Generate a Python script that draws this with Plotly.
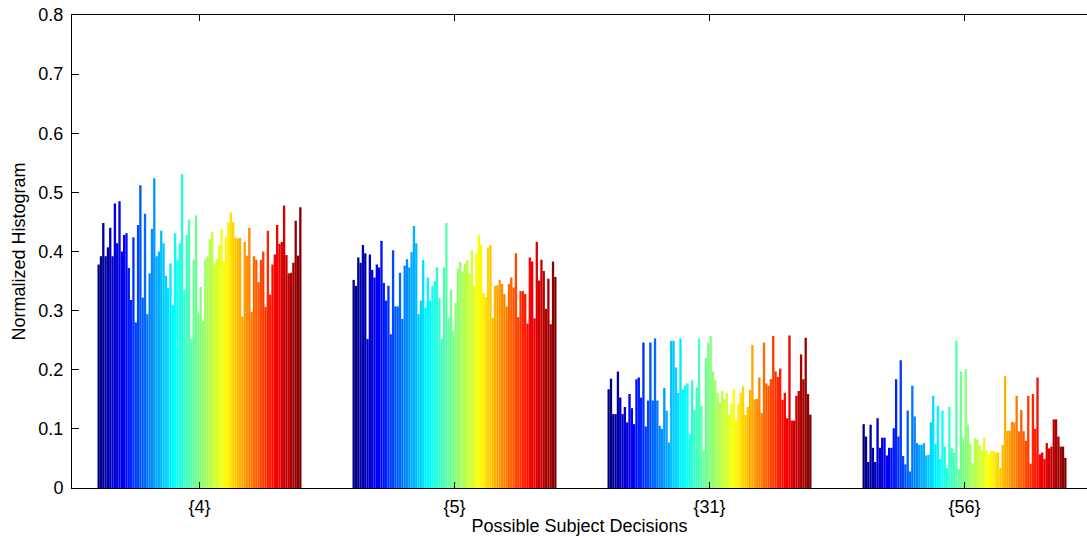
import plotly.graph_objects as go

categories = ["{4}", "{5}", "{31}", "{56}"]

group_4 = [0.378, 0.392, 0.448, 0.392, 0.407, 0.440, 0.392, 0.481, 0.414, 0.485,
           0.400, 0.428, 0.431, 0.372, 0.318, 0.424, 0.280, 0.445, 0.512, 0.322,
           0.464, 0.294, 0.363, 0.438, 0.524, 0.392, 0.400, 0.435, 0.414, 0.359,
           0.338, 0.380, 0.309, 0.431, 0.386, 0.414, 0.531, 0.335, 0.428, 0.454,
           0.252, 0.386, 0.461, 0.297, 0.340, 0.282, 0.387, 0.392, 0.421, 0.433,
           0.380, 0.387, 0.411, 0.438, 0.383, 0.425, 0.449, 0.466, 0.450, 0.424,
           0.422, 0.423, 0.290, 0.416, 0.393, 0.440, 0.298, 0.392, 0.386, 0.348,
           0.386, 0.400, 0.306, 0.435, 0.327, 0.378, 0.395, 0.445, 0.413, 0.416,
           0.478, 0.394, 0.363, 0.364, 0.381, 0.452, 0.393, 0.475]

group_5 = [0.352, 0.342, 0.390, 0.381, 0.411, 0.397, 0.252, 0.395, 0.369, 0.356,
           0.378, 0.373, 0.418, 0.347, 0.317, 0.342, 0.260, 0.402, 0.307, 0.307,
           0.364, 0.286, 0.376, 0.387, 0.373, 0.399, 0.443, 0.414, 0.294, 0.317,
           0.386, 0.305, 0.356, 0.317, 0.342, 0.350, 0.373, 0.321, 0.252, 0.373,
           0.448, 0.288, 0.335, 0.266, 0.313, 0.371, 0.382, 0.366, 0.379, 0.386,
           0.363, 0.402, 0.342, 0.397, 0.428, 0.412, 0.330, 0.323, 0.407, 0.411,
           0.288, 0.342, 0.343, 0.352, 0.345, 0.328, 0.307, 0.345, 0.356, 0.339,
           0.397, 0.289, 0.333, 0.333, 0.328, 0.278, 0.390, 0.383, 0.287, 0.416,
           0.351, 0.386, 0.367, 0.303, 0.354, 0.277, 0.383, 0.357]

group_31 = [0.167, 0.185, 0.125, 0.125, 0.197, 0.153, 0.125, 0.137, 0.111, 0.159,
            0.135, 0.108, 0.184, 0.187, 0.153, 0.246, 0.104, 0.148, 0.246, 0.148,
            0.253, 0.148, 0.105, 0.100, 0.169, 0.131, 0.077, 0.249, 0.249, 0.204,
            0.161, 0.253, 0.167, 0.173, 0.177, 0.091, 0.182, 0.132, 0.170, 0.253,
            0.138, 0.063, 0.220, 0.246, 0.257, 0.197, 0.182, 0.161, 0.144, 0.164,
            0.150, 0.161, 0.124, 0.142, 0.167, 0.114, 0.143, 0.161, 0.172, 0.124,
            0.137, 0.166, 0.242, 0.150, 0.151, 0.187, 0.127, 0.246, 0.177, 0.173,
            0.184, 0.257, 0.197, 0.188, 0.202, 0.149, 0.161, 0.118, 0.258, 0.114,
            0.114, 0.156, 0.164, 0.226, 0.184, 0.254, 0.159, 0.124]

group_56 = [0.108, 0.087, 0.044, 0.107, 0.068, 0.044, 0.118, 0.068, 0.085, 0.085,
            0.055, 0.068, 0.068, 0.101, 0.184, 0.087, 0.216, 0.054, 0.040, 0.131,
            0.028, 0.173, 0.121, 0.076, 0.073, 0.073, 0.076, 0.055, 0.056, 0.111,
            0.156, 0.075, 0.139, 0.049, 0.131, 0.070, 0.034, 0.137, 0.067, 0.060,
            0.249, 0.032, 0.197, 0.085, 0.201, 0.107, 0.075, 0.042, 0.084, 0.082,
            0.073, 0.064, 0.085, 0.064, 0.056, 0.063, 0.063, 0.060, 0.060, 0.034,
            0.073, 0.189, 0.097, 0.097, 0.112, 0.111, 0.156, 0.096, 0.132, 0.096,
            0.080, 0.156, 0.041, 0.159, 0.100, 0.187, 0.057, 0.060, 0.049, 0.076,
            0.067, 0.070, 0.116, 0.116, 0.087, 0.070, 0.070, 0.051]

y_ticks = [0, 0.1, 0.2, 0.3, 0.4, 0.5, 0.6, 0.7, 0.8]
y_tick_labels = ["0", "0.1", "0.2", "0.3", "0.4", "0.5", "0.6", "0.7", "0.8"]

groups = [group_4, group_5, group_31, group_56]
n_series = max(len(g) for g in groups)


def jet(t):
    def c(v):
        return max(0.0, min(1.0, v))
    r = c(1.5 - abs(4 * t - 3))
    g = c(1.5 - abs(4 * t - 2))
    b = c(1.5 - abs(4 * t - 1))
    return f"rgb({int(round(r*255))},{int(round(g*255))},{int(round(b*255))})"


x_pos = [1, 2, 3, 4]
fig = go.Figure()
for i in range(n_series):
    yv = [g[i] if i < len(g) else None for g in groups]
    fig.add_trace(go.Bar(
        x=x_pos, y=yv,
        marker=dict(color=jet(i / (n_series - 1)), line=dict(width=0)),
        showlegend=False, hoverinfo="y",
    ))

FAMILY = "Liberation Sans, Arial, sans-serif"
tick_font = dict(family=FAMILY, size=18, color="black")
title_font = dict(family=FAMILY, size=18, color="black")

# plot area spans x 72..1087 (right axis lies just past the window), y 15..488
fig.update_layout(
    width=1087, height=537,
    margin=dict(l=72, r=0, t=15, b=49),
    paper_bgcolor="white", plot_bgcolor="white",
    barmode="group", bargap=0.2, bargroupgap=0.0,
    font=tick_font,
    xaxis=dict(
        range=[0.5, 0.5 + 1015 / 255], tickvals=x_pos, ticktext=categories,
        showline=True, linecolor="black", linewidth=1, mirror="ticks",
        ticks="inside", ticklen=6, tickcolor="black",
        showgrid=False, zeroline=False, tickfont=tick_font,
        ticklabelstandoff=2,
        title=dict(text="Possible Subject Decisions", standoff=3, font=title_font),
        automargin=False,
    ),
    yaxis=dict(
        range=[0, 0.8], tickvals=y_ticks, ticktext=y_tick_labels,
        showline=True, linecolor="black", linewidth=1, mirror=False,
        ticks="inside", ticklen=7, tickcolor="black",
        showgrid=False, zeroline=False, tickfont=tick_font,
        ticklabelstandoff=4, ticklabeloverflow="allow",
        title=dict(text="Normalized Histogram", standoff=8, font=title_font),
        automargin=False,
    ),
    yaxis2=dict(
        overlaying="y", side="right", range=[0, 0.8], tickvals=y_ticks,
        showticklabels=False, showline=False, showgrid=False, zeroline=False,
        ticks="inside", ticklen=7, tickcolor="black",
    ),
)

fig.write_html(
    "out.html",
    config={"displayModeBar": False},
    post_script="document.body.style.margin='0px';",
)
